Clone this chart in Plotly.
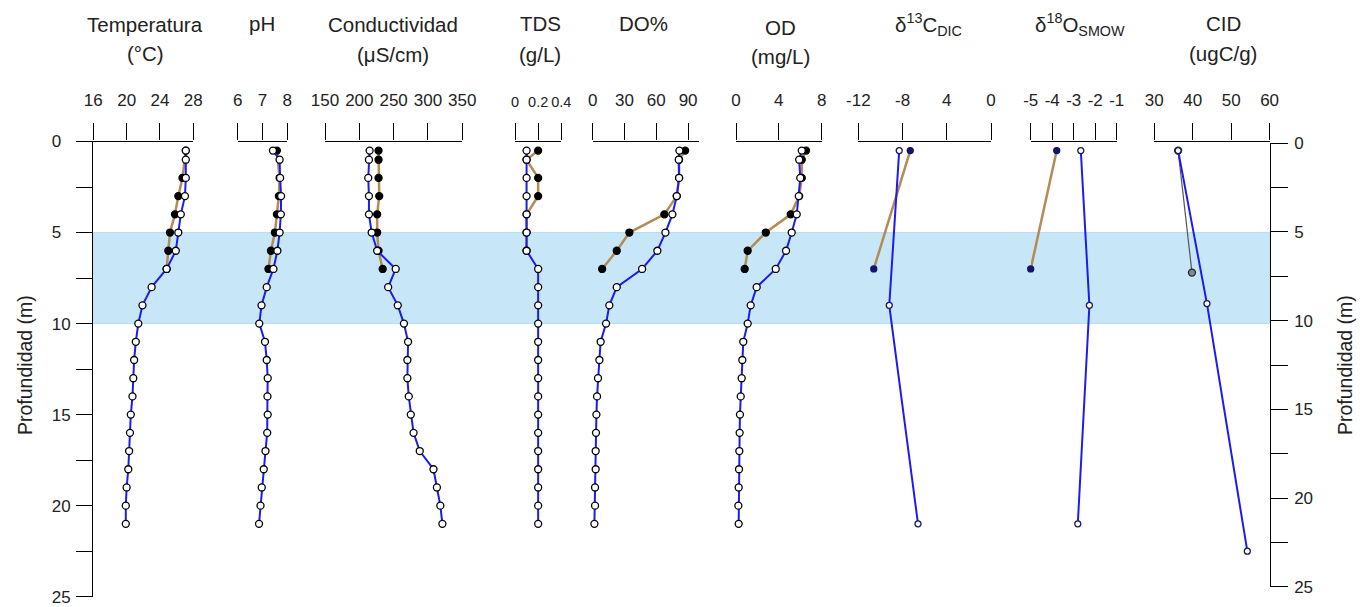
import plotly.graph_objects as go

W, H = 1365, 607

# ---------------- data ----------------
depth_main = [0.5, 1, 2, 3, 4, 5, 6, 7, 8, 9, 10, 11, 12, 13, 14, 15, 16, 17, 18, 19, 20, 21]

temp_blue = [27.1, 27.1, 27.1, 27.0, 26.5, 26.2, 25.9, 24.8, 23.0, 21.9, 21.4,
             21.1, 20.9, 20.8, 20.7, 20.5, 20.4, 20.3, 20.2, 20.0, 19.9, 19.9]
temp_brown_depth = [0.5, 2, 3, 4, 5, 6, 7]
temp_brown = [27.1, 26.7, 26.2, 25.8, 25.2, 25.0, 24.8]

ph_blue = [7.42, 7.69, 7.71, 7.75, 7.74, 7.69, 7.60, 7.44, 7.17, 6.96, 6.87,
           7.10, 7.17, 7.21, 7.20, 7.21, 7.19, 7.12, 7.05, 6.97, 6.92, 6.86]
ph_brown_depth = [0.5, 2, 3, 4, 5, 6, 7]
ph_brown = [7.58, 7.69, 7.66, 7.58, 7.50, 7.34, 7.24]

cond_blue = [215, 214, 213, 214, 214, 218, 226, 253, 242, 256, 265,
             271, 270, 270, 272, 275, 279, 288, 308, 313, 318, 321]
cond_brown_depth = [0.5, 1, 2, 3, 4, 5, 6, 7]
cond_brown = [228, 228, 228, 229, 226, 226, 228, 234]

tds_blue = [0.10, 0.10, 0.10, 0.10, 0.10, 0.10, 0.10, 0.20, 0.20, 0.20, 0.20,
            0.20, 0.20, 0.20, 0.20, 0.20, 0.20, 0.20, 0.20, 0.20, 0.20, 0.20]
tds_brown_depth = [0.5, 1, 2, 3, 4, 5, 6]
tds_brown = [0.20, 0.10, 0.20, 0.20, 0.10, 0.10, 0.10]

do_blue = [81.8, 81.2, 81.5, 79.3, 75.2, 68.6, 61.0, 46.6, 22.7, 15.7, 12.6,
           7.5, 6.3, 5.0, 4.1, 3.5, 3.1, 2.8, 2.8, 2.2, 2.2, 1.6]
do_brown_depth = [0.5, 1, 2, 3, 4, 5, 6, 7]
do_brown = [87.2, 81.5, 81.5, 79.3, 67.6, 34.6, 22.7, 8.9]

od_blue = [6.14, 5.90, 6.00, 5.86, 5.67, 5.20, 4.67, 3.71, 1.93, 1.37, 1.09,
           0.68, 0.59, 0.53, 0.44, 0.37, 0.34, 0.31, 0.28, 0.25, 0.22, 0.25]
od_brown_depth = [0.5, 1, 2, 3, 4, 5, 6, 7]
od_brown = [6.54, 6.14, 6.14, 5.90, 5.11, 2.78, 1.09, 0.81]

iso_blue_depth = [0.5, 9, 21]
d13c_blue = [-8.3, -9.2, -6.6]
d18o_blue = [-2.67, -2.27, -2.81]
iso_brown_depth = [0.5, 7]
d13c_brown = [-7.3, -10.6]
d18o_brown = [-3.79, -5.0]

cid_blue_depth = [0.5, 8.9, 22.5]
cid_blue = [36.2, 43.7, 54.2]
cid_dark_depth = [0.5, 7.2]
cid_dark = [36.2, 39.8]

# tick labels
temp_ticks = [16, 20, 24, 28]
ph_ticks = [6, 7, 8]
cond_ticks = [150, 200, 250, 300, 350]
tds_ticks = [0, 0.2, 0.4]
tds_ticktext = ["0", "0.2", "0.4"]
do_ticks = [0, 30, 60, 90]
od_ticks = [0, 4, 8]
d13c_ticks = [-12, -8, -4, 0]
d13c_ticktext = ["-12", "-8", "4", "0"]
d18o_ticks = [-5, -4, -3, -2, -1]
d18o_ticktext = ["-5", "-4", "-3", "-2", "-1"]
cid_ticks = [30, 40, 50, 60]
depth_ticks = [0, 5, 10, 15, 20, 25]
depth_minor = [2.5, 7.5, 12.5, 17.5, 22.5]
depth_left_text = ["0\u2007", "5\u2007", "10", "15", "20", "25"]
depth_right_text = ["0", "5", "10", "15", "20", "25"]

# ---------------- styling ----------------
FONT = "Liberation Sans, Arial, sans-serif"
BLUE = "#1c1cf0"
BROWN = "#b58a55"
NAVY = "#14146e"


def px(x):
    return x / W


def py(y):
    return 1 - y / H


fig = go.Figure()

# panels: (xaxis id, pixel left, pixel right, range, tickvals, ticktext, tick font size)
panels = [
    ("x", 93.3, 193.3, [16, 28], temp_ticks, [str(v) for v in temp_ticks], 17),
    ("x2", 237.7, 287.3, [6, 8], ph_ticks, [str(v) for v in ph_ticks], 17),
    ("x3", 325.0, 462.3, [150, 350], cond_ticks, [str(v) for v in cond_ticks], 17),
    ("x4", 515.0, 561.3, [0, 0.4], tds_ticks, tds_ticktext, 14.5),
    ("x5", 592.7, 698.7, [0, 100], do_ticks, [str(v) for v in do_ticks], 17),
    ("x6", 736.0, 821.7, [0, 8], od_ticks, [str(v) for v in od_ticks], 17),
    ("x7", 858.3, 991.0, [-12, 0], d13c_ticks, d13c_ticktext, 17),
    ("x8", 1030.7, 1116.7, [-5, -1], d18o_ticks, d18o_ticktext, 17),
    ("x9", 1154.3, 1269.6, [30, 60], cid_ticks, [str(v) for v in cid_ticks], 17),
]

Y_TOP, Y_BOT = 141.5, 596.7

for xid, l, r, rng, tv, tt, fs in panels:
    name = "xaxis" if xid == "x" else "xaxis" + xid[1:]
    fig.layout[name] = dict(
        domain=[px(l), px(r)], range=rng, anchor="y", side="top",
        automargin=False, tickangle=0,
        showline=True, linecolor="black", linewidth=1.3,
        ticks="outside", ticklen=17, tickwidth=1.3, tickcolor="black",
        tickvals=tv, ticktext=tt, showgrid=False, zeroline=False,
        ticklabelstandoff=11,
        tickfont=dict(family=FONT, size=fs, color="#222"),
    )


def add_profile(x, y, xaxis, line_color, line_width, marker_fill, marker_line, msize, symbol="circle"):
    fig.add_trace(go.Scatter(
        x=x, y=y, xaxis=xaxis, yaxis="y", mode="lines+markers",
        line=dict(color=line_color, width=line_width),
        marker=dict(size=msize, color=marker_fill, symbol=symbol,
                    line=dict(color=marker_line, width=1.3)),
        cliponaxis=False, showlegend=False, hoverinfo="skip",
    ))


# brown (first sampling) profiles
add_profile(temp_brown, temp_brown_depth, "x", BROWN, 2.5, "black", "black", 7)
add_profile(ph_brown, ph_brown_depth, "x2", BROWN, 2.5, "black", "black", 7)
add_profile(cond_brown, cond_brown_depth, "x3", BROWN, 2.5, "black", "black", 7)
add_profile(tds_brown, tds_brown_depth, "x4", BROWN, 2.5, "black", "black", 7)
add_profile(do_brown, do_brown_depth, "x5", BROWN, 2.5, "black", "black", 7)
add_profile(od_brown, od_brown_depth, "x6", BROWN, 2.5, "black", "black", 7)
add_profile(d13c_brown, iso_brown_depth, "x7", BROWN, 2.5, NAVY, NAVY, 6)
add_profile(d18o_brown, iso_brown_depth, "x8", BROWN, 2.5, NAVY, NAVY, 6)
add_profile(cid_dark, cid_dark_depth, "x9", "#555555", 1.2, "#7a8a9a", "#222222", 7)

# blue (second sampling) profiles
add_profile(temp_blue, depth_main, "x", BLUE, 2, "white", "black", 7)
add_profile(ph_blue, depth_main, "x2", BLUE, 2, "white", "black", 7)
add_profile(cond_blue, depth_main, "x3", BLUE, 2, "white", "black", 7)
add_profile(tds_blue, depth_main, "x4", BLUE, 2, "white", "black", 7)
add_profile(do_blue, depth_main, "x5", BLUE, 2, "white", "black", 7)
add_profile(od_blue, depth_main, "x6", BLUE, 2, "white", "black", 7)
add_profile(d13c_blue, iso_blue_depth, "x7", BLUE, 2, "white", "#1a1a5a", 6)
add_profile(d18o_blue, iso_blue_depth, "x8", BLUE, 2, "white", "#1a1a5a", 6)
add_profile(cid_blue, cid_blue_depth, "x9", BLUE, 2, "white", "#1a1a5a", 6)

# dummy trace to host the right depth axis
fig.add_trace(go.Scatter(x=[None], y=[None], xaxis="x9", yaxis="y2", mode="markers",
                         showlegend=False, hoverinfo="skip"))

fig.update_layout(
    template="none",
    yaxis=dict(domain=[py(Y_BOT), py(Y_TOP)], range=[25, 0], anchor="x",
               automargin=False,
               showline=True, linecolor="black", linewidth=1.3,
               ticks="outside", ticklen=16, tickwidth=1.3, tickcolor="black",
               tickvals=depth_ticks, ticktext=depth_left_text,
               minor=dict(tickvals=depth_minor, ticks="outside", ticklen=16,
                          tickwidth=1.3, tickcolor="black", showgrid=False),
               showgrid=False, zeroline=False, ticklabelstandoff=2,
               tickfont=dict(family=FONT, size=17, color="#222")),
    yaxis2=dict(domain=[py(586.7), py(143.3)], range=[25, 0], anchor="free",
                position=px(1269.6), side="right", automargin=False,
                showline=True, linecolor="black", linewidth=1.3,
                ticks="outside", ticklen=17, tickwidth=1.3, tickcolor="black",
                tickvals=depth_ticks, ticktext=depth_right_text,
                minor=dict(tickvals=depth_minor, ticks="outside", ticklen=17,
                           tickwidth=1.3, tickcolor="black", showgrid=False),
                showgrid=False, zeroline=False, ticklabelstandoff=3,
                tickfont=dict(family=FONT, size=17, color="#222")),
    width=W, height=H,
    margin=dict(l=0, r=0, t=0, b=0, pad=0),
    paper_bgcolor="white", plot_bgcolor="rgba(0,0,0,0)",
    font=dict(family=FONT, color="#222"),
)

# shaded layer between 5 and 10 m
fig.add_shape(type="rect", xref="paper", yref="y", x0=px(93.3), x1=px(1269.6),
              y0=5, y1=10, fillcolor="#c7e7f8", line=dict(color="#b6def3", width=1),
              layer="below")

titles = [
    ("Temperatura", 145, 25), ("(°C)", 145, 53),
    ("pH", 262, 23),
    ("Conductividad", 393, 25), ("(μS/cm)", 393, 54),
    ("TDS", 540, 23), ("(g/L)", 540, 54),
    ("DO%", 643, 23),
    ("OD", 780, 27), ("(mg/L)", 780, 57),
    ("δ<sup>13</sup>C<sub>DIC</sub>", 928, 25),
    ("δ<sup>18</sup>O<sub>SMOW</sub>", 1080, 25),
    ("CID", 1223, 23), ("(ugC/g)", 1223, 53),
]
for txt, x, y in titles:
    fig.add_annotation(text=txt, x=px(x), y=py(y), xref="paper", yref="paper",
                       xanchor="center", yanchor="middle", showarrow=False,
                       font=dict(family=FONT, size=20.5, color="#222"))

for x in (25, 1345):
    fig.add_annotation(text="Profundidad (m)", x=px(x), y=py(365), xref="paper", yref="paper",
                       xanchor="center", yanchor="middle", showarrow=False, textangle=-90,
                       font=dict(family=FONT, size=19.5, color="#222"))

fig.write_html("out.html")
